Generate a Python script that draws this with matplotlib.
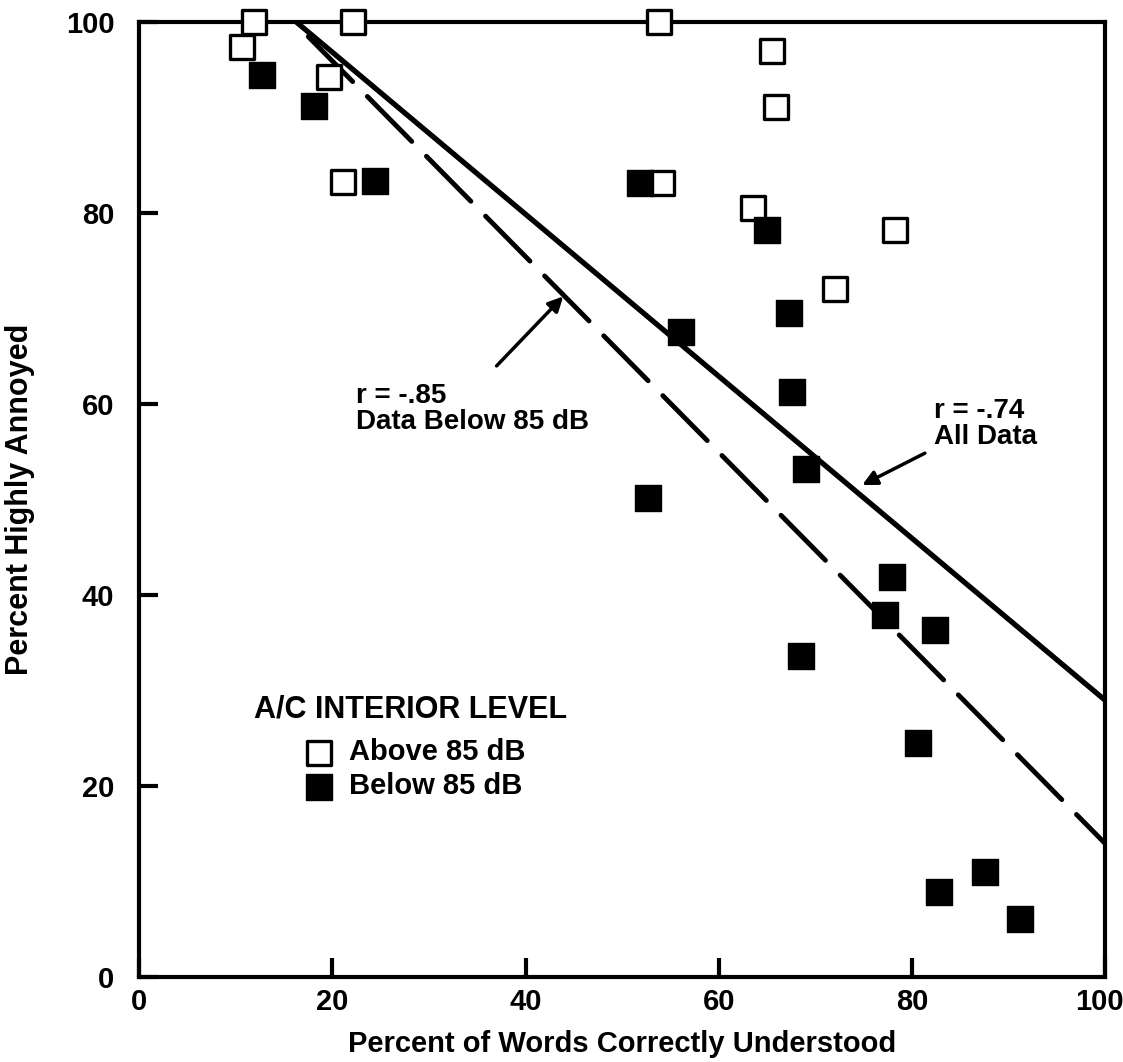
import matplotlib
matplotlib.use("Agg")
import matplotlib.pyplot as plt
from matplotlib.transforms import ScaledTranslation

plt.rcParams["font.family"] = ["Liberation Sans", "DejaVu Sans"]
plt.rcParams["font.weight"] = "bold"

# Above 85 dB (open squares)
above_x = [10.6, 11.85, 22.1, 19.6, 21.1, 53.8, 65.5, 65.9, 54.1, 63.6, 78.3, 72.0]
above_y = [97.4, 100.0, 100.0, 94.3, 83.3, 100.0, 97.0, 91.1, 83.2, 80.5, 78.2, 72.1]

# Below 85 dB (filled squares)
below_x = [12.7, 18.1, 24.4, 51.8, 65.0, 67.3, 56.1, 67.6, 69.0, 52.7,
           77.9, 77.2, 82.4, 68.5, 80.6, 87.6, 82.8, 91.2]
below_y = [94.5, 91.2, 83.4, 83.2, 78.2, 69.5, 67.6, 61.3, 53.2, 50.2,
           41.9, 37.9, 36.4, 33.6, 24.5, 11.0, 8.9, 6.1]

# regression lines (end points)
fit_all_x = [16.3, 100]
fit_all_y = [100, 29]
fit_below_x = [17.5, 100]
fit_below_y = [98.5, 14]

ticks = [0, 20, 40, 60, 80, 100]

fig = plt.figure(figsize=(11.23, 10.62), dpi=100)
ax = fig.add_axes([0.124, 0.080, 0.860, 0.899])

ax.plot(fit_all_x, fit_all_y, color="black", lw=3.8, solid_capstyle="round")
ax.plot(fit_below_x, fit_below_y, color="black", lw=3.5, dashes=(13, 4.3),
        dash_capstyle="round")

ax.scatter(above_x, above_y, marker="s", s=290, facecolor="white",
           edgecolor="black", linewidth=2.4, clip_on=False, zorder=3,
           label="Above 85 dB")
ax.scatter(below_x, below_y, marker="s", s=330, facecolor="black",
           edgecolor="black", linewidth=1, clip_on=False, zorder=4,
           label="Below 85 dB")

ax.set_xlim(0, 100)
ax.set_ylim(0, 100)
ax.set_xticks(ticks)
ax.set_yticks(ticks)
ax.tick_params(direction="in", length=14, width=3, labelsize=21,
               top=False, right=False)
ax.tick_params(axis="y", pad=18)
ax.tick_params(axis="x", pad=8)
for sp in ax.spines.values():
    sp.set_linewidth(3)
# keep the last x label inside the figure
last = ax.get_xticklabels()[-1]
last.set_transform(last.get_transform() + ScaledTranslation(-0.06, 0, fig.dpi_scale_trans))

ax.set_xlabel("Percent of Words Correctly Understood", fontsize=21,
              fontweight="bold", labelpad=10)
ax.set_ylabel("Percent Highly Annoyed", fontsize=22, fontweight="bold",
              labelpad=22)

ax.annotate("", xy=(44.1, 71.5), xytext=(36.8, 63.8),
            arrowprops=dict(arrowstyle="-|>", color="black", lw=2.5,
                            mutation_scale=22))
ax.text(22.4, 62.2, "r = -.85\nData Below 85 dB", fontsize=20,
        fontweight="bold", va="top", ha="left", linespacing=1.0)

ax.annotate("", xy=(74.6, 51.4), xytext=(81.6, 55.0),
            arrowprops=dict(arrowstyle="-|>", color="black", lw=2.5,
                            mutation_scale=22))
ax.text(82.3, 60.6, "r = -.74\nAll Data", fontsize=20,
        fontweight="bold", va="top", ha="left", linespacing=1.0)

ax.text(11.9, 29.6, "A/C INTERIOR LEVEL", fontsize=22, fontweight="bold",
        va="top", ha="left")
leg = ax.legend(loc="upper left", bbox_to_anchor=(17.0, 25.0),
                bbox_transform=ax.transData, frameon=False,
                fontsize=21, handlelength=1.1, handletextpad=0.45,
                labelspacing=0.2, borderaxespad=0, borderpad=0,
                markerscale=1.0)

fig.savefig("out.png", dpi=100)
